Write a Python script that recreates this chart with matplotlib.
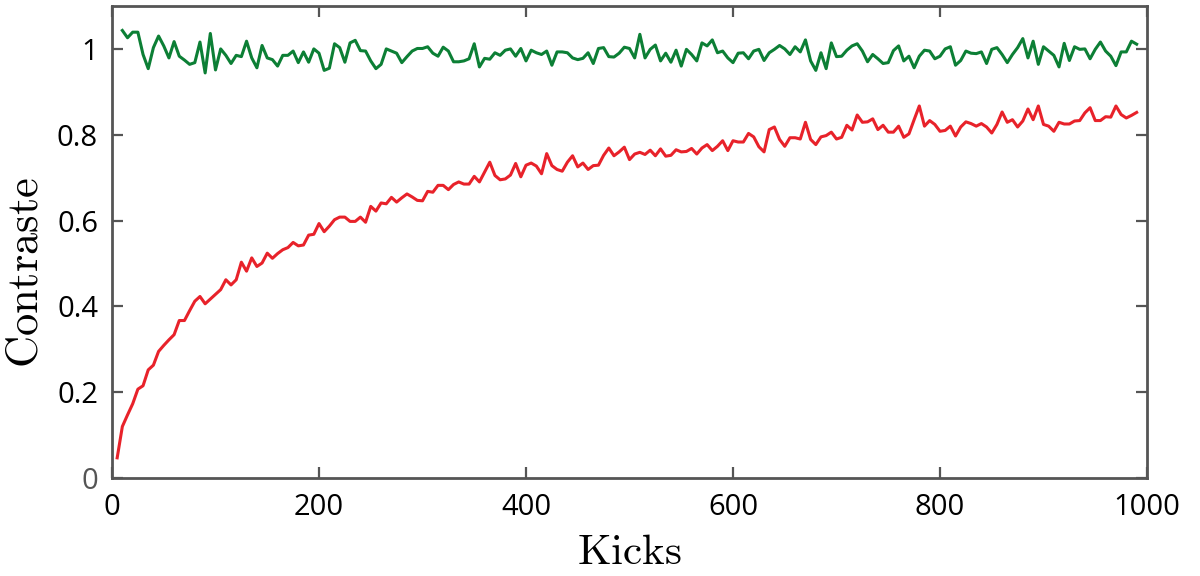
import matplotlib
matplotlib.use("Agg")
import matplotlib.pyplot as plt

plt.rcParams['mathtext.fontset'] = 'cm'
plt.rcParams['font.family'] = ['Open Sans', 'DejaVu Sans']

green_vals = [
    1.043, 1.026, 1.039, 1.039, 0.987, 0.954, 1.003, 1.030, 1.007, 0.979, 1.017, 0.983,
    0.974, 0.964, 0.968, 1.016, 0.944, 1.036, 0.951, 1.000, 0.985, 0.966, 0.985, 0.982,
    1.018, 0.979, 0.956, 1.008, 0.979, 0.975, 0.960, 0.985, 0.985, 0.995, 0.968, 0.993,
    0.969, 1.000, 0.990, 0.950, 0.955, 1.012, 1.003, 0.969, 1.014, 1.020, 0.996, 0.995,
    0.972, 0.954, 0.964, 1.000, 0.995, 0.990, 0.968, 0.982, 0.995, 1.001, 1.001, 1.005,
    0.990, 0.983, 1.004, 0.995, 0.970, 0.970, 0.972, 0.977, 1.012, 0.958, 0.978, 0.976,
    0.991, 0.985, 0.997, 1.000, 0.983, 1.001, 0.972, 0.997, 0.991, 0.987, 0.995, 0.962,
    0.993, 0.993, 0.991, 0.979, 0.975, 0.978, 0.991, 0.966, 1.001, 1.003, 0.982, 0.981,
    0.990, 1.004,
    1.001, 0.979, 1.034, 0.979, 0.999, 1.009, 0.972, 0.990, 0.969, 0.997, 0.960, 0.999,
    0.987, 0.972, 1.014, 1.007, 1.021, 0.991, 0.995, 0.979, 0.968, 0.990, 0.991, 0.977,
    0.995, 0.999, 0.973, 0.991, 0.999, 1.008, 1.000, 0.987, 1.005, 0.993, 1.021, 0.972,
    0.950, 0.991, 0.954, 1.014, 0.982, 0.983, 0.997, 1.007, 1.012, 0.995, 0.970, 0.987,
    0.977, 0.966,
    0.968, 0.996, 1.007, 0.972, 0.983, 0.956, 0.983, 0.997, 0.995, 0.977, 0.983, 1.000,
    1.005, 0.962, 0.973, 0.995, 0.990, 0.989, 0.993, 0.966, 0.999, 1.003, 0.987, 0.968,
    0.987, 1.003, 1.024, 0.979, 1.018, 0.964, 1.005, 0.995, 0.985, 0.958, 1.013, 0.973,
    1.005, 0.999, 1.000, 0.977, 0.999, 1.016, 0.995, 0.983, 0.961, 0.993, 0.993, 1.018,
    1.011,
]

red_vals = [
    0.047, 0.120, 0.147, 0.173, 0.207, 0.215, 0.252, 0.263, 0.295, 0.309, 0.322, 0.334,
    0.367, 0.367, 0.390, 0.412, 0.423, 0.406, 0.417, 0.428, 0.439, 0.462, 0.450, 0.462,
    0.503, 0.482, 0.513, 0.493, 0.501, 0.524, 0.512, 0.523, 0.532, 0.537, 0.549, 0.541,
    0.543, 0.566, 0.568, 0.593, 0.574, 0.587, 0.602, 0.608, 0.608, 0.598, 0.598, 0.608,
    0.596, 0.633, 0.622,
    0.641, 0.639, 0.654, 0.643, 0.653, 0.662, 0.655, 0.647, 0.646, 0.668, 0.666, 0.682,
    0.682, 0.672, 0.684, 0.690, 0.685, 0.685, 0.703, 0.690, 0.713, 0.736, 0.705, 0.695,
    0.697, 0.706, 0.733, 0.702, 0.729, 0.734, 0.727, 0.709, 0.756, 0.728, 0.719, 0.715,
    0.736, 0.751, 0.725, 0.734, 0.719, 0.728, 0.729, 0.752, 0.769, 0.751, 0.760, 0.771,
    0.742,
    0.755, 0.759, 0.754, 0.764, 0.751, 0.767, 0.750, 0.752, 0.765, 0.760, 0.761, 0.768,
    0.755, 0.769, 0.777, 0.763, 0.773, 0.786, 0.763, 0.786, 0.783, 0.783, 0.803, 0.795,
    0.772, 0.760, 0.812, 0.818, 0.789, 0.773, 0.793, 0.793, 0.790, 0.829, 0.789, 0.777,
    0.795, 0.798, 0.806, 0.790, 0.794, 0.822, 0.811, 0.846, 0.829, 0.830, 0.837, 0.812,
    0.822, 0.806, 0.806, 0.820,
    0.794, 0.802, 0.835, 0.867, 0.820, 0.833, 0.824, 0.808, 0.810, 0.820, 0.797, 0.818,
    0.830, 0.826, 0.820, 0.826, 0.818, 0.804, 0.824, 0.853, 0.829, 0.835, 0.818, 0.832,
    0.860, 0.835, 0.867, 0.824, 0.820, 0.808, 0.829, 0.825, 0.825, 0.832, 0.833, 0.851,
    0.863, 0.833, 0.833, 0.842, 0.841, 0.867, 0.847, 0.839, 0.845, 0.852,
]

green_kicks = list(range(10, 10 + 5 * len(green_vals), 5))
red_kicks = list(range(5, 5 + 5 * len(red_vals), 5))

x_ticks = [0, 200, 400, 600, 800, 1000]
x_ticklabels = ['0', '200', '400', '600', '800', '1000']
y_ticks = [0, 0.2, 0.4, 0.6, 0.8, 1.0]
y_ticklabels = ['0', '0.2', '0.4', '0.6', '0.8', '1']

GREEN = '#0c7f35'
RED = '#e8222a'
AXC = '#555555'

fig = plt.figure(figsize=(12, 5.76), dpi=100)
ax = fig.add_axes([112 / 1200, 1 - 478 / 576, (1147 - 112) / 1200, (478 - 6) / 576])

ax.plot(green_kicks, green_vals, color=GREEN, lw=2.2)
ax.plot(red_kicks, red_vals, color=RED, lw=2.2)

ax.set_xlim(0, 1000)
ax.set_ylim(0, 1.1)
ax.set_xticks(x_ticks)
ax.set_xticklabels(x_ticklabels)
ax.set_yticks(y_ticks)
ax.set_yticklabels(y_ticklabels)

for s in ax.spines.values():
    s.set_color(AXC)
    s.set_linewidth(2.0)

ax.tick_params(axis='both', direction='in', length=8, width=1.6, color=AXC,
               top=True, right=True, labelsize=21, labelcolor='black')
ax.tick_params(axis='x', pad=11)
ax.tick_params(axis='y', pad=10)
ax.get_yticklabels()[0].set_color(AXC)

fig.text((112 + 1147) / 2 / 1200, 1 - 564 / 576, r'$\mathrm{Kicks}$',
         ha='center', va='baseline', fontsize=31)
fig.text(26 / 1200, 1 - 272 / 576, r'$\mathrm{Contraste}$',
         ha='center', va='center', rotation=90, fontsize=32)

fig.savefig('out.png', dpi=100)
